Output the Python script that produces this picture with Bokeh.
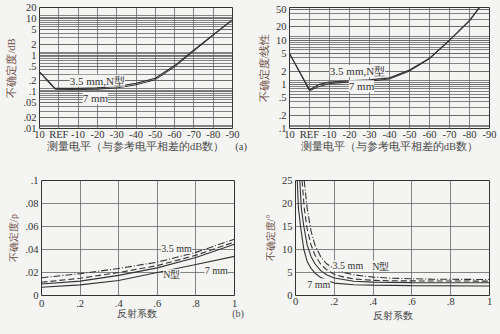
from bokeh.plotting import figure
from bokeh.models import Range1d, FixedTicker, Label
from bokeh.layouts import column, row
from bokeh.embed import file_html
from bokeh.resources import INLINE

# ---------------- data ----------------
# (a) left: uncertainty in dB vs measured level
level_ticks = [10, 0, -10, -20, -30, -40, -50, -60, -70, -80, -90]
level_labels = ["10", "REF", "-10", "-20", "-30", "-40", "-50", "-60", "-70", "-80", "-90"]
a_levels = [10, 6, 2, 0, -10, -20, -30, -40, -50, -60, -70, -80, -90]
a_db_35N = [0.35, 0.21, 0.125, 0.125, 0.125, 0.128, 0.14, 0.17, 0.235, 0.52, 1.38, 3.6, 9.3]
a_db_7 = [0.35, 0.20, 0.118, 0.117, 0.115, 0.118, 0.128, 0.155, 0.215, 0.48, 1.3, 3.5, 9.2]
a_db_ticks = [0.01, 0.02, 0.05, 0.1, 0.2, 0.5, 1, 2, 5, 10, 20]
a_db_labels = [".01", ".02", ".05", ".1", ".2", ".5", "1", "2", "5", "10", "20"]

# (a) right: uncertainty, linear
b_levels = [10, 0, -5, -10, -20, -30, -40, -50, -60, -70, -80, -85]
a_lin_35N = [5.0, 0.75, 1.0, 1.12, 1.2, 1.26, 1.4, 2.1, 3.9, 10.0, 28.0, 56.0]
a_lin_7 = [5.0, 0.72, 0.9, 1.04, 1.12, 1.18, 1.32, 2.0, 3.8, 9.8, 27.0, 54.0]
a_lin_ticks = [0.1, 0.2, 0.5, 1, 2, 5, 10, 20, 50]
a_lin_labels = [".1", ".2", ".5", "1", "2", "5", "10", "20", "50"]

# (b) left: uncertainty rho vs reflection coefficient
rho = [0, 0.2, 0.4, 0.6, 0.8, 1.0]
rho_35 = [0.0155, 0.019, 0.0235, 0.029, 0.0375, 0.049]
rho_N = [0.0115, 0.015, 0.020, 0.026, 0.035, 0.0465]
rho_mid = [0.010, 0.0125, 0.0175, 0.024, 0.033, 0.0445]
rho_7 = [0.0072, 0.0092, 0.013, 0.020, 0.027, 0.034]
rho_yticks = [0, 0.02, 0.04, 0.06, 0.08, 0.1]
rho_ylabels = ["0", ".02", ".04", ".06", ".08", ".1"]
refl_ticks = [0, 0.2, 0.4, 0.6, 0.8, 1.0]
refl_labels = ["0", ".2", ".4", ".6", ".8", "1"]

# (b) right: phase uncertainty (degrees) vs reflection coefficient
ph35_x = [0.045, 0.06, 0.08, 0.1, 0.13, 0.16, 0.2, 0.25, 0.3, 0.4, 0.5, 0.7, 1.0]
ph35_y = [25, 19, 14, 11, 8.4, 6.9, 5.8, 5.0, 4.5, 4.0, 3.75, 3.55, 3.47]
phN_x = [0.034, 0.045, 0.06, 0.08, 0.1, 0.13, 0.16, 0.2, 0.25, 0.3, 0.4, 0.5, 0.7, 1.0]
phN_y = [25, 19, 14.5, 11, 8.8, 6.8, 5.6, 4.6, 4.0, 3.6, 3.3, 3.2, 3.15, 3.13]
phM_x = [0.022, 0.03, 0.043, 0.06, 0.08, 0.1, 0.13, 0.16, 0.2, 0.3, 0.4, 0.6, 1.0]
phM_y = [25, 19, 15, 11, 8.5, 6.9, 5.4, 4.5, 3.8, 3.1, 2.9, 2.8, 2.77]
ph7_x = [0.009, 0.015, 0.026, 0.043, 0.06, 0.08, 0.1, 0.13, 0.16, 0.2, 0.3, 0.4, 0.6, 1.0]
ph7_y = [25, 19, 15, 10, 7.4, 5.9, 4.9, 3.9, 3.3, 2.7, 2.35, 2.25, 2.15, 2.08]
ph_yticks = [0, 5, 10, 15, 20, 25]
ph_ylabels = ["0", "5", "10", "15", "20", "25"]

XL_A = "测量电平（与参考电平相差的dB数）"
XL_B = "反射系数"
YL = ["不确定度/dB", "不确定度/线性", "不确定度/ρ", "不确定度/°"]
PART = ["(a)", "(b)"]

# ---------------- style ----------------
BG = "#f4f4f2"
INK = "#333333"
GRID = "#666666"
YLAB = "#6e4b42"
FONT = "Liberation Serif"
IDEO = "\u3000"   # non-collapsing full-width space
EN = "\u2002"     # non-collapsing en space


def log_minor(lo_exp, hi_exp, top):
    out = []
    for e in range(lo_exp, hi_exp + 1):
        for m in (1, 1.1, 1.2, 2, 3, 4, 5, 6, 7, 8, 9):
            v = m * 10.0 ** e
            if v <= top * 1.0001:
                out.append(v)
    return out


def base(p, xlabel, ylabel, fs_tick, fs_lab, x_std, xl_std):
    p.background_fill_color = BG
    p.border_fill_color = BG
    p.outline_line_color = INK
    p.outline_line_width = 1
    for ax in (p.xaxis[0], p.yaxis[0]):
        ax.axis_line_color = None
        ax.major_tick_line_color = None
        ax.minor_tick_line_color = None
        ax.major_tick_out = 0
        ax.major_tick_in = 0
        ax.minor_tick_out = 0
        ax.minor_tick_in = 0
        ax.major_label_text_font = FONT
        ax.major_label_text_font_size = fs_tick
        ax.major_label_text_color = INK
        ax.axis_label_text_font = FONT
        ax.axis_label_text_font_size = fs_lab
        ax.axis_label_text_font_style = "normal"
    p.xaxis.axis_label = xlabel
    p.yaxis.axis_label = ylabel
    p.xaxis.axis_label_text_color = "#4a4a4a"
    p.yaxis.axis_label_text_color = YLAB
    p.xaxis.major_label_standoff = x_std
    p.yaxis.major_label_standoff = 3
    p.xaxis.axis_label_standoff = xl_std
    p.yaxis.axis_label_standoff = 3
    for g in (p.xgrid[0], p.ygrid[0]):
        g.grid_line_color = GRID
        g.grid_line_width = 0.8


def curve_label(p, x, y, text, fs):
    p.add_layout(Label(x=x, y=y, text=text, text_font=FONT, text_font_size=fs,
                       text_color=INK, text_align="center", text_baseline="middle",
                       background_fill_color=BG))


# ---- (a) left ----  (the part tag "(a)" rides at the right end of this x label)
p1 = figure(width=250, height=165, y_axis_type="log",
            x_range=Range1d(10, -90), y_range=Range1d(0.01, 20),
            output_backend="svg", toolbar_location=None,
            min_border_left=39, min_border_right=18, min_border_top=7, min_border_bottom=37)
xl1 = IDEO * 2 + XL_A + IDEO + PART[0]
base(p1, xl1, YL[0], "10.5px", "10.5px", 0, -2)
p1.xaxis.ticker = FixedTicker(ticks=level_ticks)
p1.xaxis.major_label_overrides = dict(zip(level_ticks, level_labels))
p1.yaxis.ticker = FixedTicker(ticks=a_db_ticks, minor_ticks=log_minor(-2, 1, 20))
p1.yaxis.major_label_overrides = dict(zip(a_db_ticks, a_db_labels))
p1.ygrid.minor_grid_line_color = GRID
p1.ygrid.minor_grid_line_width = 0.8
p1.line(a_levels, a_db_35N, color=INK, line_width=1.2)
p1.line(a_levels, a_db_7, color=INK, line_width=1.0)
curve_label(p1, -20, 0.2, "3.5 mm,N型", "11px")
curve_label(p1, -19, 0.067, "7 mm", "11px")

# ---- (a) right ----
p2 = figure(width=250, height=165, y_axis_type="log",
            x_range=Range1d(10, -90), y_range=Range1d(0.1, 55),
            output_backend="svg", toolbar_location=None,
            min_border_left=39, min_border_right=11, min_border_top=5, min_border_bottom=37)
base(p2, XL_A, YL[1], "10.5px", "10.5px", 0, -2)
p2.xaxis.ticker = FixedTicker(ticks=level_ticks)
p2.xaxis.major_label_overrides = dict(zip(level_ticks, level_labels))
p2.yaxis.ticker = FixedTicker(ticks=a_lin_ticks, minor_ticks=log_minor(-1, 1, 55))
p2.yaxis.major_label_overrides = dict(zip(a_lin_ticks, a_lin_labels))
p2.ygrid.minor_grid_line_color = GRID
p2.ygrid.minor_grid_line_width = 0.8
p2.line(b_levels, a_lin_35N, color=INK, line_width=1.2)
p2.line(b_levels, a_lin_7, color=INK, line_width=1.0)
curve_label(p2, -24, 2.0, "3.5 mm,N型", "11px")
curve_label(p2, -26, 0.9, "7 mm", "11px")

# ---- (b) left ----  (the part tag "(b)" rides at the right end of this x label)
p3 = figure(width=250, height=169,
            x_range=Range1d(0, 1), y_range=Range1d(0, 0.1),
            output_backend="svg", toolbar_location=None,
            min_border_left=41, min_border_right=16, min_border_top=15, min_border_bottom=34)
xl3 = IDEO * 8 + EN + XL_B + IDEO * 7 + EN + PART[1]
base(p3, xl3, YL[2], "10.5px", "10px", 4, -2)
p3.xaxis.ticker = FixedTicker(ticks=refl_ticks)
p3.xaxis.major_label_overrides = dict(zip(refl_ticks, refl_labels))
p3.yaxis.ticker = FixedTicker(ticks=rho_yticks)
p3.yaxis.major_label_overrides = dict(zip(rho_yticks, rho_ylabels))
p3.line(rho, rho_35, color=INK, line_width=1.1, line_dash="7 2 1 2")
p3.line(rho, rho_N, color=INK, line_width=1.1, line_dash="6 3")
p3.line(rho, rho_mid, color=INK, line_width=1.1)
p3.line(rho, rho_7, color=INK, line_width=1.1)
curve_label(p3, 0.70, 0.041, "3.5 mm", "10px")
curve_label(p3, 0.675, 0.018, "N型", "10px")
curve_label(p3, 0.905, 0.022, "7 mm", "10px")

# ---- (b) right ----
p4 = figure(width=250, height=169,
            x_range=Range1d(0, 1), y_range=Range1d(0, 25),
            output_backend="svg", toolbar_location=None,
            min_border_left=45, min_border_right=11, min_border_top=10, min_border_bottom=39)
base(p4, XL_B, YL[3], "10.5px", "10px", 2, 2)
p4.xaxis.ticker = FixedTicker(ticks=refl_ticks)
p4.xaxis.major_label_overrides = dict(zip(refl_ticks, refl_labels))
p4.yaxis.ticker = FixedTicker(ticks=ph_yticks)
p4.yaxis.major_label_overrides = dict(zip(ph_yticks, ph_ylabels))
p4.line(ph35_x, ph35_y, color=INK, line_width=1.1, line_dash="7 2 1 2")
p4.line(phN_x, phN_y, color=INK, line_width=1.1, line_dash="6 3")
p4.line(phM_x, phM_y, color=INK, line_width=1.1)
p4.line(ph7_x, ph7_y, color=INK, line_width=1.1)
curve_label(p4, 0.27, 6.5, "3.5 mm", "10px")
curve_label(p4, 0.44, 6.4, "N型", "10px")
curve_label(p4, 0.12, 2.5, "7 mm", "10px")

layout = column(row(p1, p2, spacing=0), row(p3, p4, spacing=0), spacing=0)
layout.styles = {"background-color": BG}
open("out.html", "w").write(file_html(layout, INLINE))
